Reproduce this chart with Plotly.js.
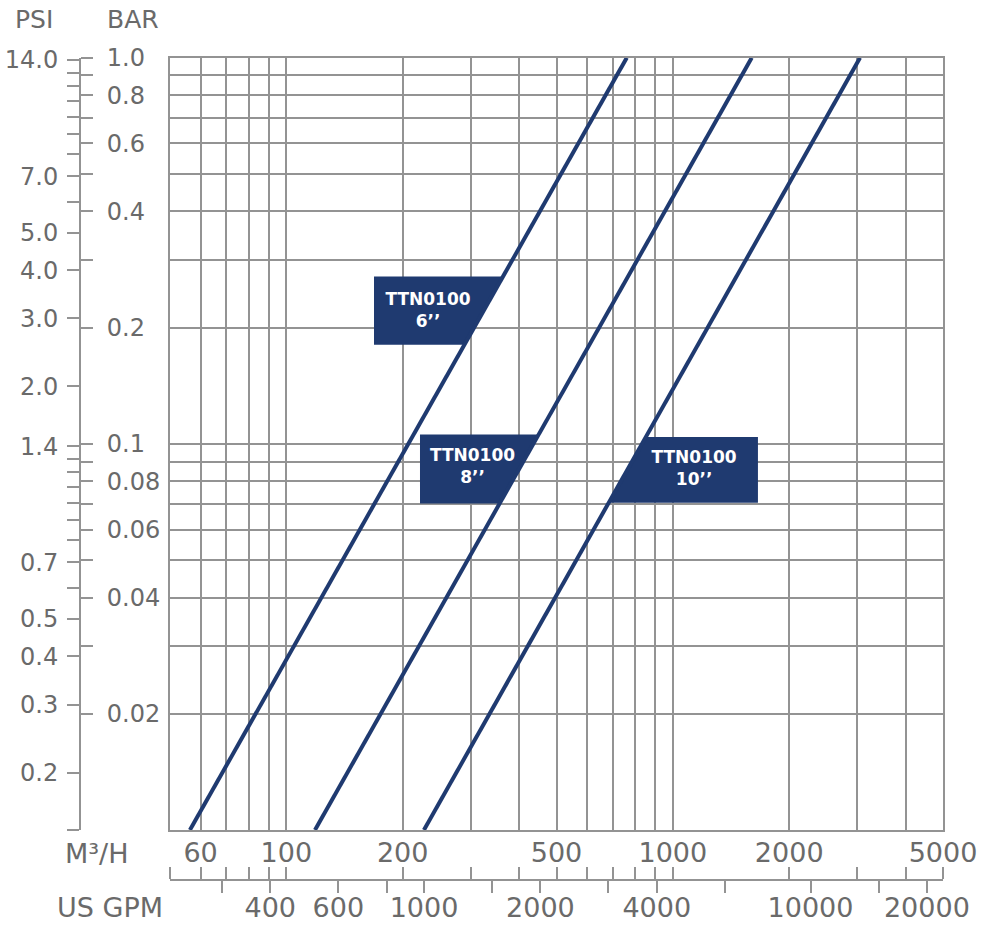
<!DOCTYPE html>
<html>
<head>
<meta charset="utf-8">
<script src="https://cdn.plot.ly/plotly-3.0.1.min.js"></script>
<style>
  html, body { margin: 0; padding: 0; background: #ffffff; }
  #chart { width: 1000px; height: 931px; }
</style>
</head>
<body>
<div id="chart"></div>
<script>
// ---------- DATA ----------
// Pressure-drop lines: flow (m³/h) at 0.01 bar and at 1.0 bar
const seriesNames   = ['TTN0100 6’’', 'TTN0100 8’’', 'TTN0100 10’’'];
const seriesSizes   = ['6’’', '8’’', '10’’'];
const seriesModel   = 'TTN0100';
const pressureEnds  = [0.01, 1.0];          // bar
const flowLow       = [56.3, 118.6, 227];   // m³/h at 0.01 bar
const flowHigh      = [760, 1600, 3050];    // m³/h at 1.0 bar

// Grid / M³/H axis
const m3hTickVals = [50, 60, 70, 80, 90, 100, 200, 300, 400, 500, 600, 700, 800, 900, 1000, 2000, 3000, 4000, 5000];
const m3hTickText = ['', '60', '', '', '', '100', '200', '', '', '500', '', '', '', '', '1000', '2000', '', '', '5000'];
const m3hRange    = [50, 5000];

// BAR axis
const barGridVals = [0.01, 0.02, 0.03, 0.04, 0.05, 0.06, 0.07, 0.08, 0.09, 0.1, 0.2, 0.3, 0.4, 0.5, 0.6, 0.7, 0.8, 0.9, 1.0];
const barTickVals = [1.0, 0.9, 0.8, 0.7, 0.6, 0.5, 0.4, 0.3, 0.2, 0.1, 0.09, 0.08, 0.07, 0.06, 0.05, 0.04, 0.03, 0.02];
const barTickText = ['1.0', '', '0.8', '', '0.6', '', '0.4', '', '0.2', '0.1', '', '0.08', '', '0.06', '', '0.04', '', '0.02'];
const barRange    = [0.01, 1.0];

// PSI axis
const psiPerBar   = 14.2;
const psiTickVals = [14, 13, 12, 11, 10, 9, 8, 7, 6, 5, 4, 3, 2, 1.4, 1.3, 1.2, 1.1, 1.0, 0.9, 0.8, 0.7, 0.6, 0.5, 0.4, 0.3, 0.2];
const psiTickText = ['14.0', '', '', '', '', '', '', '7.0', '', '5.0', '4.0', '3.0', '2.0', '1.4', '', '', '', '', '', '', '0.7', '', '0.5', '0.4', '0.3', '0.2'];

// US GPM axis
const gpmPerM3h   = 4.403;
const gpmTickVals = [300, 400, 600, 800, 1000, 1500, 2000, 3000, 4000, 6000, 10000, 15000, 20000];
const gpmTickText = ['', '400', '600', '', '1000', '', '2000', '', '4000', '', '10000', '', '20000'];

// Label boxes (data units): fixed edge x (m³/h), which side of the line, top/bottom (bar), text centre
const boxFixedX   = [168.6, 221.7, 1660];
const boxSide     = ['left', 'left', 'right'];
const boxTop      = [0.2714, 0.1057, 0.1042];
const boxBottom   = [0.1806, 0.0701, 0.0704];
const labelX      = [232.6, 303.2, 1135];
const labelY      = [0.2195, 0.0868, 0.0858];

// ---------- STYLE ----------
const NAVY = '#1f3a70';
const GRID = '#939393';
const TXT  = '#6a6a6a';
const FONT = 'DejaVu Sans, Liberation Sans, sans-serif';

// ---------- GEOMETRY (figure pixels -> paper) ----------
const W = 1000, H = 931;
const plotL = 170, plotR = 943, plotT = 57.7, plotB = 830;
const xDom = [plotL / W, plotR / W];
const yDom = [1 - plotB / H, 1 - plotT / H];
const psiAxisX = 80 / W;
const flowAxisY = 1 - 880 / H;

const lg = Math.log10;

function flowOnLine(i, p) {
  const t = (lg(p) - lg(pressureEnds[0])) / (lg(pressureEnds[1]) - lg(pressureEnds[0]));
  return Math.pow(10, lg(flowLow[i]) + t * (lg(flowHigh[i]) - lg(flowLow[i])));
}

const traces = [];

// label boxes
for (let i = 0; i < seriesNames.length; i++) {
  const xt = flowOnLine(i, boxTop[i]), xb = flowOnLine(i, boxBottom[i]);
  let xs, ys;
  if (boxSide[i] === 'left') {
    xs = [boxFixedX[i], xt, xb, boxFixedX[i], boxFixedX[i]];
    ys = [boxTop[i], boxTop[i], boxBottom[i], boxBottom[i], boxTop[i]];
  } else {
    xs = [xt, boxFixedX[i], boxFixedX[i], xb, xt];
    ys = [boxTop[i], boxTop[i], boxBottom[i], boxBottom[i], boxTop[i]];
  }
  traces.push({
    type: 'scatter', mode: 'lines', x: xs, y: ys, fill: 'toself',
    fillcolor: NAVY, line: { width: 0, color: NAVY }, hoverinfo: 'skip', showlegend: false
  });
}

// lines
for (let i = 0; i < seriesNames.length; i++) {
  traces.push({
    type: 'scatter', mode: 'lines', name: seriesNames[i],
    x: [flowLow[i], flowHigh[i]], y: pressureEnds.slice(),
    line: { color: NAVY, width: 4 }, showlegend: false
  });
}

// label text
traces.push({
  type: 'scatter', mode: 'text',
  x: labelX, y: labelY,
  text: seriesSizes.map(s => seriesModel + '<br>' + s),
  textposition: 'middle center',
  textfont: { family: FONT, size: 17, color: '#ffffff', weight: 'bold' },
  hoverinfo: 'skip', showlegend: false, cliponaxis: false
});

// dummy traces to register the extra axes
traces.push({ type: 'scatter', x: [], y: [], xaxis: 'x', yaxis: 'y2', showlegend: false });
traces.push({ type: 'scatter', x: [], y: [], xaxis: 'x', yaxis: 'y3', showlegend: false });
traces.push({ type: 'scatter', x: [], y: [], xaxis: 'x2', yaxis: 'y', showlegend: false });
traces.push({ type: 'scatter', x: [], y: [], xaxis: 'x3', yaxis: 'y', showlegend: false });

const axisFontY = { family: FONT, size: 24, color: TXT };
const axisFontX = { family: FONT, size: 27, color: TXT };

const layout = {
  width: W, height: H,
  margin: { l: 0, r: 0, t: 0, b: 0, pad: 0 },
  paper_bgcolor: '#ffffff', plot_bgcolor: '#ffffff',
  showlegend: false,
  xaxis: {
    type: 'log', domain: xDom, range: [lg(m3hRange[0]), lg(m3hRange[1])],
    tickvals: m3hTickVals, showticklabels: false, ticks: '',
    showgrid: true, gridcolor: GRID, gridwidth: 2,
    showline: true, mirror: true, linecolor: GRID, linewidth: 2,
    zeroline: false, automargin: false, fixedrange: true
  },
  yaxis: {
    type: 'log', domain: yDom, range: [lg(barRange[0]), lg(barRange[1])],
    tickvals: barGridVals, showticklabels: false, ticks: '',
    showgrid: true, gridcolor: GRID, gridwidth: 2,
    showline: true, mirror: true, linecolor: GRID, linewidth: 2,
    zeroline: false, automargin: false, fixedrange: true
  },
  // PSI (left side of the free axis)
  yaxis2: {
    type: 'log', domain: yDom, overlaying: 'y', anchor: 'free', position: psiAxisX, side: 'left',
    range: [lg(barRange[0] * psiPerBar), lg(barRange[1] * psiPerBar)],
    tickvals: psiTickVals.concat([barRange[0] * psiPerBar]), ticktext: psiTickText.concat(['']),
    ticks: 'outside', ticklen: 12, tickwidth: 2, tickcolor: GRID,
    tickfont: axisFontY, ticklabelstandoff: 4,
    showline: true, linecolor: GRID, linewidth: 2,
    showgrid: false, zeroline: false, automargin: false, fixedrange: true
  },
  // BAR (right side of the free axis)
  yaxis3: {
    type: 'log', domain: yDom, overlaying: 'y', anchor: 'free', position: psiAxisX, side: 'right',
    range: [lg(barRange[0]), lg(barRange[1])],
    tickvals: barTickVals, ticktext: barTickText,
    ticks: 'outside', ticklen: 12, tickwidth: 2, tickcolor: GRID,
    tickfont: axisFontY, ticklabelstandoff: 9,
    showline: false, showgrid: false, zeroline: false, automargin: false, fixedrange: true
  },
  // M³/H (labels above line)
  xaxis2: {
    type: 'log', domain: xDom, overlaying: 'x', anchor: 'free', position: flowAxisY, side: 'top',
    range: [lg(m3hRange[0]), lg(m3hRange[1])],
    tickvals: m3hTickVals, ticktext: m3hTickText,
    ticks: 'outside', ticklen: 12, tickwidth: 2, tickcolor: GRID,
    tickfont: axisFontX, ticklabelstandoff: -6,
    showline: true, linecolor: GRID, linewidth: 2,
    showgrid: false, zeroline: false, automargin: false, fixedrange: true
  },
  // US GPM (labels below line)
  xaxis3: {
    type: 'log', domain: xDom, overlaying: 'x', anchor: 'free', position: flowAxisY, side: 'bottom',
    range: [lg(m3hRange[0] * gpmPerM3h), lg(m3hRange[1] * gpmPerM3h)],
    tickvals: gpmTickVals, ticktext: gpmTickText,
    ticks: 'outside', ticklen: 12, tickwidth: 2, tickcolor: GRID,
    tickfont: axisFontX, ticklabelstandoff: -8,
    showline: false, showgrid: false, zeroline: false, automargin: false, fixedrange: true
  },
  annotations: [
    { text: 'PSI', x: 33.5 / W, y: 1 - 19 / H },
    { text: 'BAR', x: 133 / W, y: 1 - 19 / H },
    { text: 'M³/H', x: 97 / W, y: 1 - 853 / H },
    { text: 'US GPM', x: 110 / W, y: 1 - 907 / H }
  ].map((a, i) => Object.assign({
    xref: 'paper', yref: 'paper', xanchor: 'center', yanchor: 'middle', showarrow: false,
    font: { family: FONT, size: i < 2 ? 25 : 27, color: TXT }
  }, a))
};

Plotly.newPlot('chart', traces, layout, { staticPlot: true, displayModeBar: false });
</script>
</body>
</html>
